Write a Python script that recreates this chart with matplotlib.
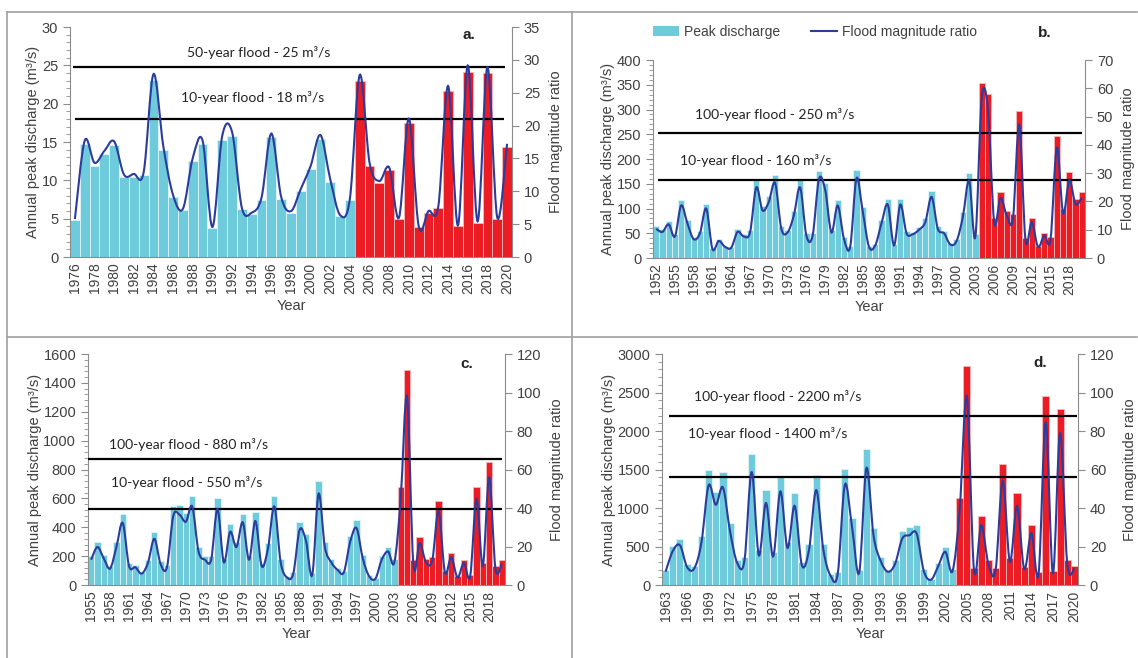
import numpy as np
import matplotlib.pyplot as plt
from matplotlib.path import Path
from matplotlib.patches import PathPatch, Patch
from matplotlib.lines import Line2D
from matplotlib.ticker import MultipleLocator

plt.rcParams['font.family'] = ['Liberation Sans', 'DejaVu Sans']

CYAN = '#6ecbdc'
RED = '#ec1c24'
NAVY = '#2c3c9c'
TXT = '#404040'
AXC = '#8c8c8c'

# ---- data ----
# a.
years_a = list(range(1976, 2021))
peak_a = [4.8, 14.7, 11.9, 13.4, 14.6, 10.4, 10.5, 10.7, 23.1, 14.0,
          7.8, 6.1, 12.5, 14.7, 3.8, 15.3, 15.8, 6.2, 5.6, 7.5,
          15.6, 7.6, 5.8, 8.6, 11.5, 15.4, 9.8, 5.3, 7.4,
          23.0, 11.9, 9.6, 11.3, 5.0, 17.5, 3.9, 5.8, 6.4, 21.6,
          4.0, 24.2, 4.5, 24.0, 5.0, 14.3]
base_a = 0.83
floods_a = [24.8, 18]
flood_txt_a = ['50-year flood - 25 m³/s', '10-year flood - 18 m³/s']

# b.
years_b = list(range(1952, 2021))
peak_b = [65, 58, 75, 48, 117, 77, 42, 55, 110, 20,
          38, 25, 23, 58, 48, 57, 157, 106, 125, 167,
          65, 57, 95, 157, 50, 50, 175, 152, 57, 117,
          43, 25, 177, 104, 25, 28, 77, 119, 28, 119,
          55, 53, 63, 80, 136, 65, 55, 30, 38, 92,
          172, 48, 354, 331, 80, 134, 95, 88, 297, 40,
          80, 25, 50, 42, 246, 100, 173, 120, 134]
base_b = 6.3
floods_b = [252, 158]
flood_txt_b = ['100-year flood - 250 m³/s', '10-year flood - 160 m³/s']

# c.
years_c = list(range(1955, 2021))
peak_c = [200, 300, 210, 130, 300, 490, 150, 140, 90, 175,
          365, 165, 140, 545, 555, 500, 620, 265, 200, 200,
          600, 180, 420, 300, 495, 200, 505, 150, 290, 620,
          180, 60, 90, 435, 350, 80, 720, 300, 180, 120,
          100, 340, 450, 210, 70, 50, 200, 265, 180,
          680, 1490, 170, 330, 180, 195, 585, 100, 220, 60,
          175, 70, 680, 150, 850, 130, 170]
base_c = 15.2
floods_c = [870, 526]
flood_txt_c = ['100-year flood - 880 m³/s', '10-year flood - 550 m³/s']

# d.
years_d = list(range(1963, 2021))
peak_d = [200, 510, 600, 270, 250, 640, 1500, 1210, 1470, 800,
          330, 370, 1700, 450, 1235, 430, 1410, 560, 1190, 300,
          530, 1430, 530, 140, 170, 1510, 870, 190, 1760, 740,
          360, 200, 320, 700, 750, 775, 210, 80, 280, 500, 210,
          1130, 2840, 220, 900, 320, 220, 1570, 350, 1190, 240,
          780, 170, 2450, 180, 2290, 320, 250]
base_d = 29.0
floods_d = [2200, 1400]
flood_txt_d = ['100-year flood - 2200 m³/s', '10-year flood - 1400 m³/s']

# first year drawn in red
red_from = {'a': 2005, 'b': 2004, 'c': 2004, 'd': 2004}


def smooth_path(x, y):
    # excel style smoothed line: bezier through every point
    x = np.asarray(x, float)
    y = np.asarray(y, float)
    n = len(x)
    pts = np.column_stack([x, y])
    verts = [tuple(pts[0])]
    codes = [Path.MOVETO]
    for i in range(n - 1):
        p0 = pts[max(i - 1, 0)]
        p1 = pts[i]
        p2 = pts[i + 1]
        p3 = pts[min(i + 2, n - 1)]
        verts += [tuple(p1 + (p2 - p0) / 6), tuple(p2 - (p3 - p1) / 6), tuple(p2)]
        codes += [Path.CURVE4] * 3
    return Path(verts, codes)


fig = plt.figure(figsize=(11.38, 6.58), dpi=100)

panels = [
    dict(key='a', years=years_a, peak=peak_a, base=base_a, floods=floods_a, txt=flood_txt_a,
         ymax=30, ymaj=5, ymin=1, y2max=35, y2maj=5, step=2,
         rect=[0.0615, 0.6094, 0.3884, 0.3495],
         span=[(0.006, 0.984), (0.012, 0.981)],
         txtpos=[(0.427, 0.891), (0.413, 0.694)], keypos=(0.903, 0.967)),
    dict(key='b', years=years_b, peak=peak_b, base=base_b, floods=floods_b, txt=flood_txt_b,
         ymax=400, ymaj=50, ymin=10, y2max=70, y2maj=10, step=3,
         rect=[0.5738, 0.6079, 0.3796, 0.3009],
         span=[(0.011, 0.992), (0.011, 0.99)],
         txtpos=[(0.281, 0.723), (0.237, 0.494)], keypos=(0.908, 1.134)),
    dict(key='c', years=years_c, peak=peak_c, base=base_c, floods=floods_c, txt=flood_txt_c,
         ymax=1600, ymaj=200, ymin=40, y2max=120, y2maj=20, step=3,
         rect=[0.0773, 0.1109, 0.3664, 0.3511],
         span=[(0.0, 0.994), (0.0, 0.994)],
         txtpos=[(0.242, 0.608), (0.236, 0.445)], keypos=(0.909, 0.957)),
    dict(key='d', years=years_d, peak=peak_d, base=base_d, floods=floods_d, txt=flood_txt_d,
         ymax=3000, ymaj=500, ymin=100, y2max=120, y2maj=20, step=3,
         rect=[0.5817, 0.1109, 0.3656, 0.3511],
         span=[(0.016, 0.997), (0.016, 0.997)],
         txtpos=[(0.279, 0.818), (0.255, 0.656)], keypos=(0.91, 0.96)),
]

for p in panels:
    ax = fig.add_axes(p['rect'])
    yrs = np.array(p['years'])
    q = np.array(p['peak'], float)
    x = np.arange(len(yrs))
    is_red = yrs >= red_from[p['key']]
    cols = [RED if r else CYAN for r in is_red]
    edges = ['#f7b9bb' if r else '#e2f4f8' for r in is_red]
    ax.bar(x, q, width=1.0, color=cols, edgecolor=edges, linewidth=0.6, zorder=1)
    ax.set_xlim(-0.5, len(yrs) - 0.5)
    ax.set_ylim(0, p['ymax'])
    ax.yaxis.set_major_locator(MultipleLocator(p['ymaj']))
    ax.yaxis.set_minor_locator(MultipleLocator(p['ymin']))
    ticks = x[::p['step']]
    ax.set_xticks(ticks)
    ax.set_xticklabels([str(y) for y in yrs[::p['step']]], rotation=90, fontsize=10, color=TXT)
    ax.tick_params(axis='x', length=0, pad=4)
    ax.tick_params(axis='y', which='major', length=5, color=AXC, labelsize=10.5, labelcolor=TXT)
    ax.tick_params(axis='y', which='minor', length=3, color=AXC)
    for s in ['top', 'right']:
        ax.spines[s].set_visible(False)
    for s in ['left', 'bottom']:
        ax.spines[s].set_color(AXC)
    ax.set_xlabel('Year', fontsize=10.5, color=TXT, labelpad=4)
    ax.set_ylabel('Annual peak discharge (m³/s)', fontsize=10.5, color=TXT, labelpad=1)

    # flood thresholds
    n = len(yrs)
    for lvl, t, (tx, ty), (f0, f1) in zip(p['floods'], p['txt'], p['txtpos'], p['span']):
        ax.hlines(lvl, -0.5 + f0 * n, -0.5 + f1 * n, color='black', lw=1.6, zorder=3)
        ax.text(tx, ty, t, transform=ax.transAxes, ha='center', va='center',
                fontsize=10, family=['Lato', 'DejaVu Sans'], color='#222222')

    ax2 = ax.twinx()
    ax2.set_ylim(0, p['y2max'])
    ax2.yaxis.set_major_locator(MultipleLocator(p['y2maj']))
    ax2.add_patch(PathPatch(smooth_path(x, q / p['base']), fill=False,
                            edgecolor=NAVY, lw=1.5, zorder=4))
    for s in ['top', 'left', 'bottom']:
        ax2.spines[s].set_visible(False)
    ax2.spines['right'].set_color(AXC)
    ax2.tick_params(axis='y', length=5, color=AXC, labelsize=10.5, labelcolor=TXT)
    ax2.set_ylabel('Flood magnitude ratio', fontsize=10.5, color=TXT, labelpad=6)
    ax2.text(p['keypos'][0], p['keypos'][1], p['key'] + '.', transform=ax2.transAxes,
             ha='center', va='center', fontsize=11, fontweight='bold', color='#222222')

    if p['key'] == 'b':
        handles = [Patch(facecolor=CYAN, edgecolor='none'),
                   Line2D([], [], color=NAVY, lw=1.5)]
        ax.legend(handles, ['Peak discharge', 'Flood magnitude ratio'], ncol=2,
                  loc='center left', bbox_to_anchor=(0.0, 1.143), frameon=False,
                  borderpad=0, borderaxespad=0, fontsize=10, handlelength=1.9,
                  handletextpad=0.35, columnspacing=2.2, labelcolor=TXT)

# table-like frame around the four panels
frame = dict(color='#a0a0a0', lw=1.2, transform=fig.transFigure)
fig.add_artist(Line2D([0.006, 0.999], [0.982, 0.982], **frame))
fig.add_artist(Line2D([0.006, 0.006], [0.0, 0.982], **frame))
fig.add_artist(Line2D([0.5026, 0.5026], [0.0, 0.982], **frame))
fig.add_artist(Line2D([0.006, 0.999], [0.488, 0.488], **frame))

fig.savefig('out.png', dpi=100)
